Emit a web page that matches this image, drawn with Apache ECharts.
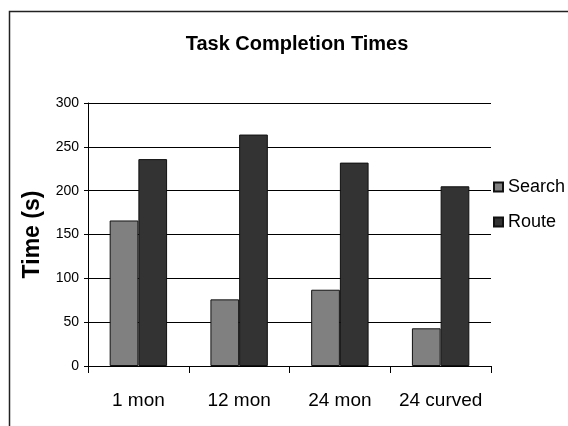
<!DOCTYPE html>
<html>
<head>
<meta charset="utf-8">
<script src="https://cdn.jsdelivr.net/npm/echarts@6/dist/echarts.min.js"></script>
<style>
  html, body { margin: 0; padding: 0; background: #fff; }
  #chart { width: 568px; height: 426px; }
</style>
</head>
<body>
<div id="chart"></div>
<script>
// Task completion times (seconds) per display configuration
const categories = ['1 mon', '12 mon', '24 mon', '24 curved'];
const searchTimes = [166, 76, 87, 43];
const routeTimes = [236, 264, 232, 205];
const yTicks = { min: 0, max: 300, interval: 50 };

const FONT = '"Liberation Sans", Arial, sans-serif';

const chart = echarts.init(document.getElementById('chart'), null, { renderer: 'canvas' });

chart.setOption({
  animation: false,
  backgroundColor: '#fff',
  title: {
    text: 'Task Completion Times',
    left: 292,
    top: 29,
    textAlign: 'center',
    textStyle: { fontFamily: FONT, fontWeight: 'bold', fontSize: 20, color: '#000' }
  },
  graphic: [
    {
      // chart frame, running off the right and bottom edges
      type: 'rect',
      shape: { x: 9.5, y: 11.5, width: 700, height: 600 },
      style: { fill: 'none', stroke: '#222', lineWidth: 1.5 },
      z: -1
    }
  ],
  legend: {
    orient: 'vertical',
    left: 488,
    top: 173,
    itemWidth: 9,
    itemHeight: 9,
    itemGap: 17,
    icon: 'rect',
    textStyle: { fontFamily: FONT, fontSize: 18, color: '#000' },
    data: ['Search', 'Route']
  },
  grid: {
    left: 88,
    right: 77,
    top: 103,
    bottom: 60
  },
  xAxis: {
    type: 'category',
    data: categories,
    axisLine: { show: true, lineStyle: { color: '#000', width: 1 } },
    axisTick: { show: true, interval: 0, length: 7, lineStyle: { color: '#000' } },
    axisLabel: { interval: 0, margin: 25, fontFamily: FONT, fontSize: 19, color: '#000' },
    splitLine: { show: false }
  },
  yAxis: {
    type: 'value',
    min: yTicks.min,
    max: yTicks.max,
    interval: yTicks.interval,
    name: 'Time (s)',
    nameLocation: 'middle',
    nameGap: 44,
    nameRotate: 90,
    nameTextStyle: { fontFamily: FONT, fontWeight: 'bold', fontSize: 23, color: '#000' },
    axisLine: { show: true, lineStyle: { color: '#000', width: 1 } },
    axisTick: { show: true, length: 4, lineStyle: { color: '#000' } },
    axisLabel: { margin: 9, fontFamily: FONT, fontSize: 14, color: '#000' },
    splitLine: { show: true, lineStyle: { color: '#000', width: 1 } }
  },
  series: [
    {
      name: 'Search',
      type: 'bar',
      data: searchTimes,
      barGap: '0%',
      barCategoryGap: '43%',
      itemStyle: { color: '#808080', borderColor: '#111', borderWidth: 1 }
    },
    {
      name: 'Route',
      type: 'bar',
      data: routeTimes,
      barGap: '0%',
      barCategoryGap: '43%',
      itemStyle: { color: '#333333', borderColor: '#111', borderWidth: 1 }
    }
  ]
});
</script>
</body>
</html>
